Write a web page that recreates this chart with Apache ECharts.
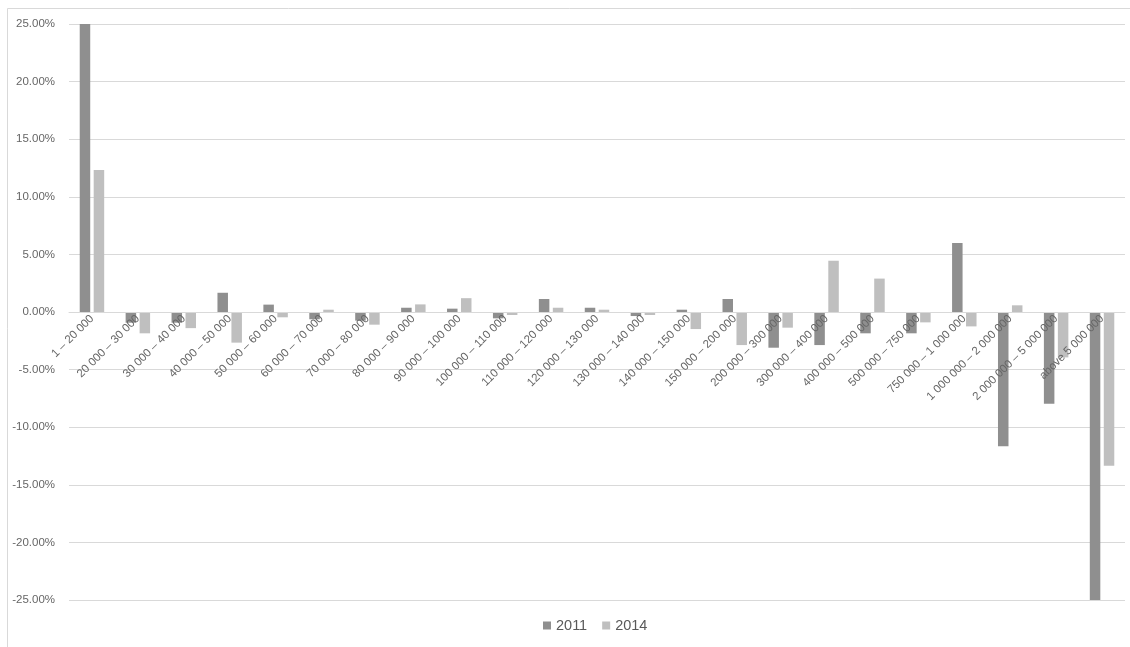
<!DOCTYPE html>
<html>
<head>
<meta charset="utf-8">
<script src="https://cdn.jsdelivr.net/npm/echarts@6/dist/echarts.min.js"></script>
<style>
  html, body { margin: 0; padding: 0; background: #ffffff; }
  #chart { width: 1130px; height: 647px; }
</style>
</head>
<body>
<div id="chart"></div>
<script>
// Income brackets (category axis)
const categories = [
  '1 – 20 000', '20 000 – 30 000', '30 000 – 40 000', '40 000 – 50 000',
  '50 000 – 60 000', '60 000 – 70 000', '70 000 – 80 000', '80 000 – 90 000',
  '90 000 – 100 000', '100 000 – 110 000', '110 000 – 120 000', '120 000 – 130 000',
  '130 000 – 140 000', '140 000 – 150 000', '150 000 – 200 000', '200 000 – 300 000',
  '300 000 – 400 000', '400 000 – 500 000', '500 000 – 750 000', '750 000 – 1 000 000',
  '1 000 000 – 2 000 000', '2 000 000 – 5 000 000', 'above 5 000 000'
];

// Percentage change per bracket
const values2011 = [
  25.00, -0.93, -0.93, 1.67, 0.64, -0.63, -0.75, 0.37, 0.29, -0.55, 1.13, 0.37,
  -0.35, 0.20, 1.13, -3.10, -2.87, -1.85, -1.85, 5.99, -11.66, -7.96, -25.00
];
const values2014 = [
  12.33, -1.85, -1.40, -2.66, -0.46, 0.20, -1.10, 0.66, 1.20, -0.26, 0.37, 0.20,
  -0.26, -1.48, -2.87, -1.36, 4.45, 2.90, -0.90, -1.25, 0.58, -3.94, -13.34
];

const seriesNames = ['2011', '2014'];

const font = '"Liberation Sans", Arial, sans-serif';
const chart = echarts.init(document.getElementById('chart'), null, { renderer: 'canvas' });

chart.setOption({
  animation: false,
  backgroundColor: '#ffffff',
  graphic: [{
    type: 'rect',
    shape: { x: 7.5, y: 8.5, width: 1130, height: 650 },
    style: { fill: 'none', stroke: '#d9d9d9', lineWidth: 1 },
    silent: true
  }],
  legend: {
    data: seriesNames,
    top: 613,
    left: 538,
    icon: 'rect',
    itemWidth: 8,
    itemHeight: 8,
    itemGap: 15,
    textStyle: { color: '#595959', fontSize: 14.5, fontFamily: font, padding: [0, 0, 0, 0] }
  },
  grid: {
    left: 69, right: 5, top: 24, bottom: 47,
    containLabel: false,
    outerBoundsMode: 'none'
  },
  xAxis: {
    type: 'category',
    data: categories,
    z: 5,
    axisLine: { onZero: false, lineStyle: { color: '#d9d9d9', width: 1 } },
    axisTick: { show: false },
    axisLabel: {
      interval: 0,
      rotate: 45,
      margin: 5,
      color: '#666666',
      fontSize: 11.5,
      fontFamily: font
    }
  },
  yAxis: {
    type: 'value',
    min: -25,
    max: 25,
    interval: 5,
    axisLine: { show: false },
    axisTick: { show: false },
    splitLine: { lineStyle: { color: '#d9d9d9', width: 1 } },
    axisLabel: {
      color: '#666666',
      fontSize: 11.5,
      fontFamily: font,
      margin: 14,
      formatter: v => v.toFixed(2) + '%'
    }
  },
  series: [
    {
      name: seriesNames[0],
      type: 'bar',
      data: values2011,
      barWidth: 10.5,
      barGap: '33%',
      itemStyle: { color: '#8f8f8f' }
    },
    {
      name: seriesNames[1],
      type: 'bar',
      data: values2014,
      barWidth: 10.5,
      barGap: '33%',
      itemStyle: { color: '#bfbfbf' }
    }
  ]
});

// Move the category axis (line and labels) up to the zero line of the value axis
const zeroY = chart.convertToPixel({ yAxisIndex: 0 }, 0);
const bottomY = chart.convertToPixel({ yAxisIndex: 0 }, -25);
chart.setOption({ xAxis: { offset: zeroY - bottomY } });
</script>
</body>
</html>
